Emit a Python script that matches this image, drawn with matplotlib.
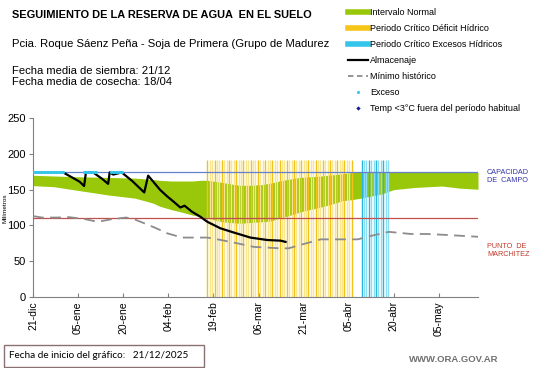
import numpy as np
import matplotlib
matplotlib.use("Agg")
import matplotlib.pyplot as plt
from matplotlib.lines import Line2D
from matplotlib.patches import Rectangle
from matplotlib.transforms import Bbox, TransformedBbox

plt.rcParams['font.family'] = ['Liberation Sans', 'DejaVu Sans']

# ---------------- data (x = days since 21-dic) ----------------
tick_days = [0, 15, 30, 45, 60, 75, 90, 105, 120, 135]
tick_labels = ['21-dic', '05-ene', '20-ene', '04-feb', '19-feb', '06-mar',
               '21-mar', '05-abr', '20-abr', '05-may']

capacidad_campo = 174
punto_marchitez = 110

band_days = [0, 7, 14, 25, 34, 40, 42, 46, 49, 53, 56, 58, 63, 67, 69, 72, 76, 79, 82,
             87, 89, 96, 98, 103, 106, 109, 116, 119, 120, 127, 136, 142, 148]
band_upper = [170, 169, 168, 167, 166, 164, 163, 162, 162, 162, 163, 163, 160, 157, 156,
              156, 157, 159, 162, 166, 167, 169, 170, 172, 174, 174, 174, 174, 174, 174,
              174, 174, 174]
band_lower = [155.5, 154, 149.5, 142.5, 138, 131, 127, 122, 119, 114.5, 112, 110, 105,
              103.5, 103, 104, 105, 106, 110, 116, 119, 126, 128, 134.5, 136, 138, 144,
              148.5, 150, 153, 155, 152, 150.5]

alm_days = [10, 13, 15.5, 17, 17.6, 20, 23, 25, 25.5, 26.7, 29.5, 33, 37, 38.3, 40,
            42.3, 44.5, 46.8, 49, 50.4, 52.9, 55.7, 58, 62.3, 66.8, 72.3, 77.9, 82.3, 84]
alm_vals = [174, 167, 161, 155, 174, 174, 165, 158, 174, 171, 174, 162, 146, 169.5, 161,
            149.5, 141, 133, 125, 127.5, 119, 112, 105, 96, 90, 83, 79.6, 78.7, 77]

min_days = [0, 3, 8, 12, 17, 21.5, 26, 31, 34, 37, 41, 44.6, 49.6, 58, 62, 66.8, 73.4,
            78, 82, 85, 90, 95.7, 108, 112, 118.4, 125.7, 131, 137.9, 148.4]
min_vals = [113, 111, 111, 111.5, 109, 105, 108.5, 111, 108, 103, 96, 89, 83, 83, 80,
            76, 70, 69, 68, 68, 74, 80.5, 80.5, 85, 91, 88, 88, 86.6, 84]

exceso_days = [0, 0.5, 1, 1.5, 2, 2.5, 3, 3.5, 4, 4.5, 5, 5.5, 6, 6.5, 7, 7.5, 8, 8.5,
               9, 9.5, 10, 17, 17.5, 18, 18.5, 19, 19.5, 20, 20.5, 21, 26, 26.5, 27,
               27.5, 28, 28.5, 29, 29.5]
exceso_vals = [174] * len(exceso_days)

deficit_start, deficit_end = 58, 106
excesos_start, excesos_end = 109.3, 118.6
periodo_top = 191

# ---------------- figure ----------------
W, H = 541, 368
fig = plt.figure(figsize=(W / 100, H / 100), dpi=100)
ax = fig.add_axes([33 / W, 1 - 297 / H, (478 - 33) / W, (297 - 118) / H])

ax.fill_between(band_days, band_lower, band_upper, color='#99c80a', lw=0, zorder=1)

# critical-period vertical lines
d_lines = np.arange(deficit_start, deficit_end + 0.01, 0.8)
for i, d in enumerate(d_lines):
    c = '#f2c21a' if i % 3 == 0 else '#f8e58c'
    ax.vlines(d, 0, periodo_top, color=c, lw=1.0, zorder=2)
e_lines = np.arange(excesos_start, excesos_end + 0.01, 0.8)
for i, d in enumerate(e_lines):
    c = '#29b5dc' if i % 3 == 0 else '#8cdcf2'
    ax.vlines(d, 0, periodo_top, color=c, lw=1.0, zorder=2)

ax.axhline(capacidad_campo, color='#6680cc', lw=0.9, zorder=3)
ax.axhline(punto_marchitez, color='#c0504d', lw=0.9, zorder=3)

ax.plot(min_days, min_vals, color='#8c8c8c', lw=1.3, dashes=(6, 3.5), zorder=4)
ax.plot(alm_days, alm_vals, color='black', lw=1.6, zorder=5)
ax.plot(exceso_days, exceso_vals, ls='none', marker='o', ms=2.2, color='#33c6ea',
        mec='none', zorder=6)

ax.set_xlim(0, 148)
ax.set_ylim(0, 250)
ax.set_yticks([0, 50, 100, 150, 200, 250])
ax.set_xticks(tick_days)
ax.set_xticklabels(tick_labels, rotation=90, fontsize=7.5)
ax.tick_params(axis='y', labelsize=8, length=3, color='#808080', pad=2)
ax.tick_params(axis='x', length=3, direction='in', color='#808080', pad=3)
for s in ['top', 'right']:
    ax.spines[s].set_visible(False)
for s in ['left', 'bottom']:
    ax.spines[s].set_color('#808080')
ax.patch.set_alpha(0)

fig.text(5.5 / W, 1 - 208 / H, 'Milímetros', rotation=90, fontsize=4.6, ha='center',
         va='center')

# right-hand labels
fig.text(487 / W, 1 - 176 / H, 'CAPACIDAD\nDE  CAMPO', color='#3333aa', fontsize=5.2,
         va='center', ha='left', linespacing=1.2)
fig.text(487 / W, 1 - 251 / H, 'PUNTO  DE\nMARCHITEZ', color='#c0392b', fontsize=5.2,
         va='center', ha='left', linespacing=1.2)

# header texts
fig.text(12 / W, 1 - 15 / H, 'SEGUIMIENTO DE LA RESERVA DE AGUA  EN EL SUELO',
         fontsize=7.9, fontweight='bold', va='center')
t = fig.text(12.5 / W, 1 - 44 / H,
             'Pcia. Roque Sáenz Peña - Soja de Primera (Grupo de Madurez 6)',
             fontsize=8.1, va='center')
t.set_clip_box(TransformedBbox(Bbox([[0, 0], [331 / W, 1]]), fig.transFigure))
t.set_clip_on(True)
fig.text(12.5 / W, 1 - 71 / H, 'Fecha media de siembra: 21/12', fontsize=8.1, va='center')
fig.text(12.5 / W, 1 - 82 / H, 'Fecha media de cosecha: 18/04', fontsize=8.1, va='center')

# legend
handles = [
    Line2D([], [], color='#99c80a', lw=4),
    Line2D([], [], color='#f5c518', lw=4),
    Line2D([], [], color='#33c6ea', lw=4),
    Line2D([], [], color='black', lw=1.6),
    Line2D([], [], color='#8c8c8c', lw=1.3, dashes=(3, 2)),
    Line2D([], [], ls='none', marker='o', ms=2.2, color='#33c6ea', mec='none'),
    Line2D([], [], ls='none', marker='D', ms=2.2, color='#1a1a8c', mec='none'),
]
labels = ['Intervalo Normal', 'Periodo Crítico Déficit Hídrico',
          'Periodo Crítico Excesos Hídricos', 'Almacenaje', 'Mínimo histórico',
          'Exceso', 'Temp <3°C fuera del período habitual']
leg = fig.legend(handles, labels, loc='upper left',
                 bbox_to_anchor=(345 / W, 1 - 5.5 / H), fontsize=6.5, frameon=True,
                 facecolor='white', edgecolor='none', framealpha=1,
                 handlelength=2.2, handletextpad=0.25, labelspacing=0.78,
                 borderpad=0.3, borderaxespad=0)
leg.set_zorder(10)

# bottom box
fig.patches.append(Rectangle((4 / W, 1 - 367 / H), 200 / W, 22 / H,
                             transform=fig.transFigure, fill=False,
                             edgecolor='#8a7070', lw=1.0))
fig.text(9 / W, 1 - 356 / H, 'Fecha de inicio del gráfico:   21/12/2025', fontsize=7.2,
         va='center', family=['Lato', 'DejaVu Sans'])
fig.text(498 / W, 1 - 359 / H, 'WWW.ORA.GOV.AR', fontsize=6.8, color='#707070',
         fontweight='bold', ha='right', va='center')

fig.savefig('out.png', dpi=100)
